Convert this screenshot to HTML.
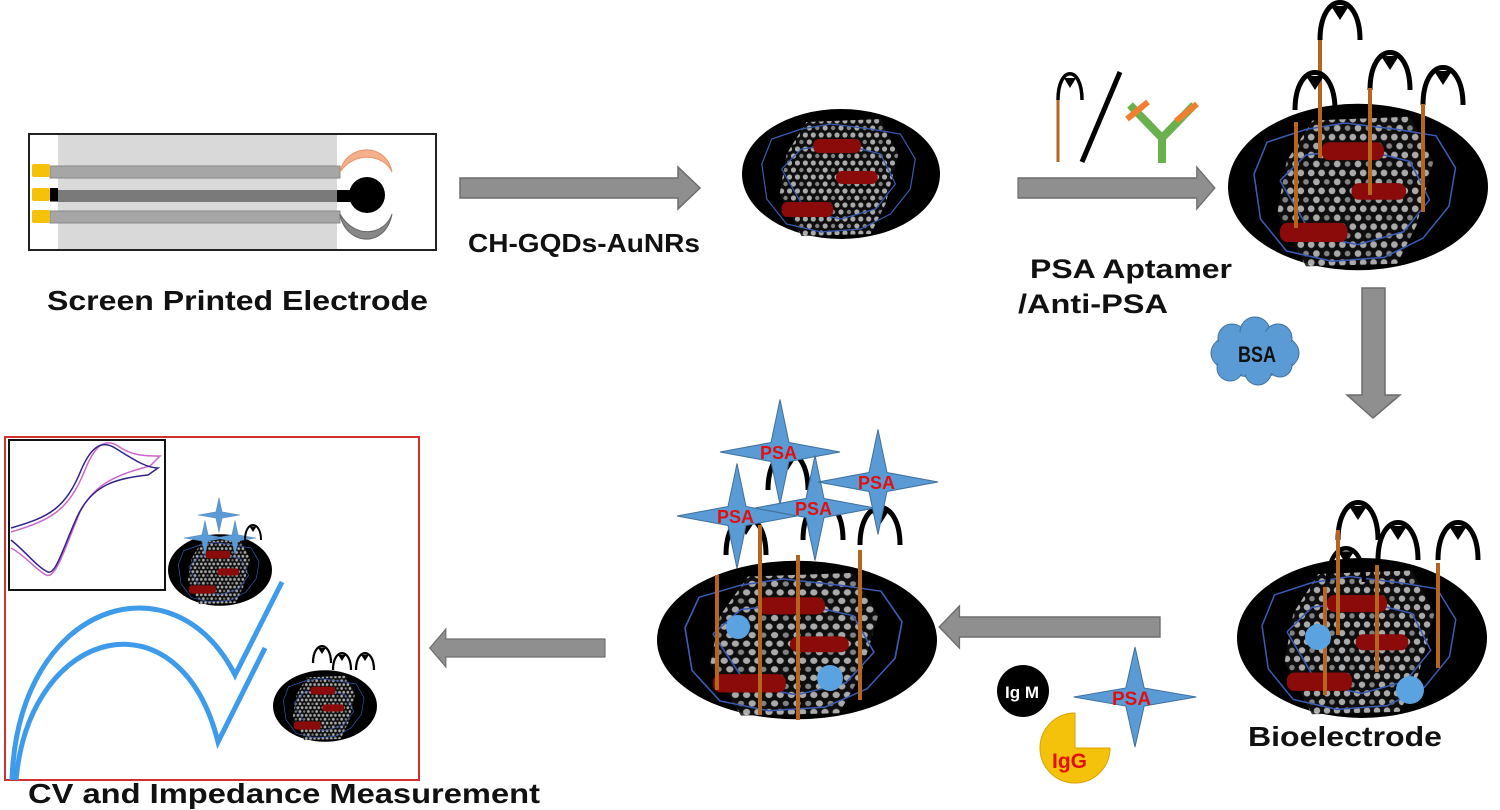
<!DOCTYPE html>
<html><head><meta charset="utf-8"><style>
html,body{margin:0;padding:0;background:#fff;}
svg{display:block;}
text{font-family:"Liberation Sans",sans-serif;font-weight:bold;}
</style></head><body>
<svg width="1500" height="810" viewBox="0 0 1500 810" xmlns="http://www.w3.org/2000/svg">
<defs>
<pattern id="gr" width="16" height="14" patternUnits="userSpaceOnUse">
<rect width="16" height="14" fill="#111"/>
<circle cx="4" cy="3" r="2.6" fill="#c8c8c8"/><circle cx="12" cy="3" r="2.6" fill="#c8c8c8"/>
<circle cx="0" cy="10" r="2.6" fill="#c8c8c8"/><circle cx="16" cy="10" r="2.6" fill="#c8c8c8"/><circle cx="8" cy="10" r="2.2" fill="#999"/>
</pattern>
<g id="disc">
<ellipse cx="0" cy="0" rx="100" ry="65" fill="#000"/>
<polygon points="-35,-52 40,-55 58,-20 45,30 30,60 -40,62 -62,20 -55,-20" fill="url(#gr)" opacity="0.85"/>
<polyline points="-80,-10 -70,-35 -40,-45 -10,-50 30,-45 60,-40 75,-15 70,15 50,40 20,55 -20,58 -55,50 -75,25 -80,-10" fill="none" stroke="#3a5cb5" stroke-width="1.2"/>
<polyline points="-60,-5 -40,-25 0,-30 40,-20 55,10 35,35 0,45 -35,38 -60,-5" fill="none" stroke="#3a5cb5" stroke-width="1.2"/>
<rect x="-28" y="-35" width="48" height="14" rx="6" fill="#8b0a0a"/>
<rect x="-5" y="-3" width="42" height="13" rx="6" fill="#8b0a0a"/>
<rect x="-60" y="28" width="52" height="15" rx="6" fill="#8b0a0a"/>
</g>
<g id="apt"><path d="M0,0 C0,-50 40,-50 40,0" fill="none" stroke="#000" stroke-width="5"/><polygon points="11,-34 29,-34 20,-20" fill="#000"/></g>
<g id="star"><path d="M0,-50 L9,-9 L60,0 L9,9 L0,50 L-9,9 L-60,0 L-9,-9Z" fill="#5b9bd5" stroke="#41719c" stroke-width="1"/></g>
<g id="arr" ><path d="M0,-10 L218,-10 L218,-21 L240,0 L218,21 L218,10 L0,10Z" fill="#8f8f8f" stroke="#6d6d6d" stroke-width="1.5"/></g>
</defs>

<!-- Electrode -->
<rect x="29" y="134" width="407" height="116" fill="#fff" stroke="#222" stroke-width="2"/>
<rect x="58" y="135" width="279" height="114" fill="#d9d9d9"/>
<rect x="50" y="166" width="290" height="12" fill="#a6a6a6" stroke="#888"/>
<rect x="50" y="190" width="290" height="12" fill="#7a7a7a"/>
<rect x="50" y="211" width="290" height="12" fill="#a6a6a6" stroke="#888"/>
<rect x="32" y="164" width="18" height="13" rx="2" fill="#f5c20b"/>
<rect x="32" y="188" width="18" height="13" rx="2" fill="#f5c20b"/>
<rect x="32" y="210" width="18" height="13" rx="2" fill="#f5c20b"/>
<rect x="50" y="188" width="8" height="13" fill="#000"/>
<rect x="337" y="190" width="20" height="12" fill="#000"/>
<circle cx="367" cy="195" r="18" fill="#000"/>
<path d="M340,172 C345,145 385,140 392,172 C385,155 355,150 340,172Z" fill="#f4b08a" stroke="#e8906a"/>
<path d="M340,214 C345,245 385,250 392,214 C385,235 355,240 340,214Z" fill="#888" stroke="#666"/>
<text x="47" y="310" font-size="28" fill="#111" textLength="381" lengthAdjust="spacingAndGlyphs">Screen Printed Electrode</text>

<use href="#arr" transform="translate(460,188)"/>
<text x="468" y="252" font-size="26" fill="#111" textLength="232" lengthAdjust="spacingAndGlyphs">CH-GQDs-AuNRs</text>

<!-- disc 2 -->
<use href="#disc" transform="translate(841,174) scale(0.99,1.0)"/>

<!-- aptamer / antibody -->
<line x1="1058" y1="162" x2="1058" y2="98" stroke="#b5651d" stroke-width="3"/>
<path d="M1058,100 C1058,65 1082,65 1082,100" fill="none" stroke="#000" stroke-width="3.5"/>
<polygon points="1064,78 1076,78 1070,88" fill="#000"/>
<line x1="1082" y1="162" x2="1120" y2="72" stroke="#000" stroke-width="5"/>
<path d="M1130,105 L1162,138 L1194,105" fill="none" stroke="#6ab04c" stroke-width="8"/>
<line x1="1162" y1="138" x2="1162" y2="163" stroke="#6ab04c" stroke-width="8"/>
<line x1="1127" y1="119" x2="1148" y2="102" stroke="#f08030" stroke-width="6"/>
<line x1="1176" y1="121" x2="1197" y2="104" stroke="#f08030" stroke-width="6"/>
<use href="#arr" transform="translate(1018,188) scale(0.82,1)"/>
<text x="1030" y="278" font-size="27" fill="#111" textLength="202" lengthAdjust="spacingAndGlyphs">PSA Aptamer</text>
<text x="1018" y="313" font-size="27" fill="#111" textLength="150" lengthAdjust="spacingAndGlyphs">/Anti-PSA</text>

<!-- disc 3 -->
<use href="#disc" transform="translate(1358,187) scale(1.3,1.28)"/>
<use href="#apt" transform="translate(1320,40)"/>
<line x1="1320" y1="40" x2="1320" y2="158" stroke="#b5651d" stroke-width="4"/>
<use href="#apt" transform="translate(1370,90)"/>
<line x1="1370" y1="88" x2="1370" y2="195" stroke="#b5651d" stroke-width="4"/>
<use href="#apt" transform="translate(1423,105)"/>
<line x1="1423" y1="104" x2="1423" y2="212" stroke="#b5651d" stroke-width="4"/>
<use href="#apt" transform="translate(1295,110)"/>
<line x1="1296" y1="122" x2="1296" y2="228" stroke="#b5651d" stroke-width="4"/>

<!-- down arrow -->
<path d="M1362,288 L1385,288 L1385,395 L1400,395 L1373,418 L1347,395 L1362,395Z" fill="#8f8f8f" stroke="#6d6d6d" stroke-width="1.5"/>
<!-- BSA cloud -->
<g fill="#5b9bd5" stroke="#41719c" stroke-width="1">
<ellipse cx="1255" cy="353" rx="44" ry="24"/>
<circle cx="1232" cy="338" r="14"/><circle cx="1255" cy="332" r="15"/><circle cx="1278" cy="338" r="14"/>
<circle cx="1230" cy="368" r="13"/><circle cx="1258" cy="372" r="13"/><circle cx="1280" cy="365" r="12"/>
</g>
<ellipse cx="1255" cy="353" rx="42" ry="22" fill="#5b9bd5"/>
<text x="1238" y="362" font-size="22" fill="#111" font-weight="normal" textLength="38" lengthAdjust="spacingAndGlyphs">BSA</text>

<!-- disc 4 bioelectrode -->
<use href="#disc" transform="translate(1362,638) scale(1.25,1.23)"/>
<use href="#apt" transform="translate(1338,540)"/>
<use href="#apt" transform="translate(1378,560)"/>
<use href="#apt" transform="translate(1438,560)"/>
<use href="#apt" transform="translate(1328,582) scale(0.9)"/>
<line x1="1338" y1="530" x2="1338" y2="635" stroke="#b5651d" stroke-width="4"/>
<line x1="1377" y1="565" x2="1377" y2="672" stroke="#b5651d" stroke-width="4"/>
<line x1="1438" y1="563" x2="1438" y2="668" stroke="#b5651d" stroke-width="4"/>
<line x1="1325" y1="587" x2="1325" y2="695" stroke="#b5651d" stroke-width="4"/>
<circle cx="1318" cy="637" r="13" fill="#5ba3e0"/><circle cx="1410" cy="690" r="14" fill="#5ba3e0"/>
<text x="1248" y="746" font-size="28" fill="#111" textLength="194" lengthAdjust="spacingAndGlyphs">Bioelectrode</text>

<!-- IgM IgG PSA -->
<circle cx="1023" cy="691" r="26" fill="#000"/>
<text x="1005" y="698" font-size="17" fill="#fff" font-weight="normal">Ig M</text>
<path d="M1075,748 L1110,748 A35,35 0 1 1 1075,713Z" fill="#f5c20b" stroke="#e0a000"/>
<text x="1052" y="768" font-size="21" fill="#e01010" font-weight="normal">IgG</text>
<use href="#star" transform="translate(1135,697) scale(1.02,1)"/>
<text x="1112" y="705" font-size="19" fill="#e01010">PSA</text>

<!-- disc 5 -->
<use href="#disc" transform="translate(797,640) scale(1.4,1.22)"/>
<use href="#apt" transform="translate(726,555)"/>
<use href="#apt" transform="translate(768,490)"/>
<use href="#apt" transform="translate(803,540)"/>
<use href="#apt" transform="translate(860,545)"/>
<line x1="717" y1="575" x2="717" y2="690" stroke="#b5651d" stroke-width="4"/>
<line x1="760" y1="525" x2="760" y2="715" stroke="#b5651d" stroke-width="4"/>
<line x1="798" y1="555" x2="798" y2="720" stroke="#b5651d" stroke-width="4"/>
<line x1="860" y1="550" x2="860" y2="700" stroke="#b5651d" stroke-width="4"/>
<circle cx="738" cy="627" r="12" fill="#5ba3e0"/><circle cx="830" cy="678" r="13" fill="#5ba3e0"/>
<use href="#star" transform="translate(780,452) scale(1.0,1.05)"/>
<text x="760" y="459" font-size="18" fill="#e01010">PSA</text>
<use href="#star" transform="translate(737,516) scale(1.0,1.05)"/>
<text x="717" y="523" font-size="18" fill="#e01010">PSA</text>
<use href="#star" transform="translate(815,508) scale(1.0,1.05)"/>
<text x="795" y="515" font-size="18" fill="#e01010">PSA</text>
<use href="#star" transform="translate(878,482) scale(1.0,1.05)"/>
<text x="858" y="489" font-size="18" fill="#e01010">PSA</text>

<!-- left arrow middle (drawn over disc) -->
<use href="#arr" transform="translate(1160,627) scale(-0.92,1)"/>

<use href="#arr" transform="translate(605,648) scale(-0.73,0.9)"/>

<!-- result box -->
<rect x="5" y="437" width="414" height="343" fill="#fff" stroke="#d03030" stroke-width="2"/>
<rect x="9" y="440" width="156" height="150" fill="#fff" stroke="#111" stroke-width="2"/>
<path d="M11,532 C50,520 68,512 85,470 C95,445 105,438 118,446 C132,456 145,456 160,456 L150,466 C120,474 95,482 80,512 C66,545 56,580 46,575 C36,570 26,556 11,548" fill="none" stroke="#cc66cc" stroke-width="1.5"/>
<path d="M11,528 C50,517 66,508 82,468 C92,446 102,440 115,448 C130,457 145,468 158,468 L148,475 C118,478 93,484 78,515 C64,545 56,575 48,572 C38,568 26,552 11,540" fill="none" stroke="#332288" stroke-width="1.5"/>
<use href="#disc" transform="translate(220,570) scale(0.52,0.55)"/>
<use href="#star" transform="translate(219,515) scale(0.35)"/>
<use href="#star" transform="translate(205,538) scale(0.35)"/>
<use href="#star" transform="translate(235,538) scale(0.35)"/>
<use href="#apt" transform="translate(245,540) scale(0.4)"/>
<use href="#disc" transform="translate(325,706) scale(0.52,0.55)"/>
<use href="#apt" transform="translate(313,663) scale(0.45)"/>
<use href="#apt" transform="translate(333,670) scale(0.45)"/>
<use href="#apt" transform="translate(356,670) scale(0.45)"/>
<path d="M12,780 C18,600 175,555 235,675 L282,582" fill="none" stroke="#3d9be9" stroke-width="5" stroke-linejoin="miter"/>
<path d="M16,780 C30,625 180,590 218,742 L265,648" fill="none" stroke="#3d9be9" stroke-width="5"/>
<text x="28" y="803" font-size="28" fill="#111" textLength="512" lengthAdjust="spacingAndGlyphs">CV and Impedance Measurement</text>
</svg>
</body></html>
